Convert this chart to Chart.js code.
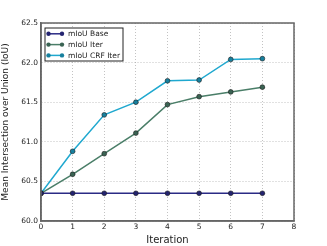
<!DOCTYPE html>
<html>
<head>
<meta charset="utf-8">
<script src="https://cdn.jsdelivr.net/npm/chart.js@4"></script>
<style>
  html, body { margin: 0; padding: 0; background: #fff; }
  #wrap { width: 327px; height: 246px; }
</style>
</head>
<body>
<div id="wrap"><canvas id="chart" width="327" height="246"></canvas></div>
<script>
const iterations = [0, 1, 2, 3, 4, 5, 6, 7];
const seriesNames = ['mIoU Base', 'mIoU Iter', 'mIoU CRF Iter'];
const baseValues = [60.35, 60.35, 60.35, 60.35, 60.35, 60.35, 60.35, 60.35];
const iterValues = [60.35, 60.59, 60.85, 61.11, 61.47, 61.57, 61.63, 61.69];
const crfValues = [60.35, 60.88, 61.34, 61.50, 61.77, 61.78, 62.04, 62.05];
const lineColors = ['#2b2b85', '#4a7e68', '#1fa8cf'];
const pointColors = ['#242470', '#3a6353', '#17809e'];

const FONT = 'DejaVu Sans';

function makeSet(i, values) {
  return {
    label: seriesNames[i],
    data: iterations.map((x, k) => ({ x: x, y: values[k] })),
    borderColor: lineColors[i],
    backgroundColor: pointColors[i],
    pointBackgroundColor: pointColors[i],
    pointBorderColor: '#1a1a1a',
    pointBorderWidth: 0.6,
    pointRadius: 2.4,
    borderWidth: 1.5,
    tension: 0
  };
}

// legend drawn inside the plot, top-left, like matplotlib
const innerLegend = {
  id: 'innerLegend',
  afterDatasetsDraw(chart) {
    const ctx = chart.ctx;
    const a = chart.chartArea;
    const x0 = a.left + 3.5, y0 = a.top + 4.5;
    ctx.save();
    ctx.fillStyle = '#fff';
    ctx.strokeStyle = '#222';
    ctx.lineWidth = 1;
    ctx.fillRect(x0, y0, 78, 33);
    ctx.strokeRect(x0 + 0.5, y0 + 0.5, 78, 33);
    ctx.font = '7.5px ' + FONT;
    ctx.textBaseline = 'middle';
    chart.data.datasets.forEach((ds, i) => {
      const y = y0 + 6.3 + i * 10.8;
      ctx.strokeStyle = ds.borderColor;
      ctx.lineWidth = 1.5;
      ctx.beginPath();
      ctx.moveTo(x0 + 3.5, y);
      ctx.lineTo(x0 + 18, y);
      ctx.stroke();
      [x0 + 4, x0 + 17.5].forEach(px => {
        ctx.beginPath();
        ctx.arc(px, y, 2.2, 0, Math.PI * 2);
        ctx.fillStyle = ds.pointBackgroundColor;
        ctx.fill();
      });
      ctx.fillStyle = '#222';
      ctx.fillText(ds.label, x0 + 23.5, y + 0.5);
    });
    ctx.restore();
  }
};

new Chart(document.getElementById('chart'), {
  type: 'line',
  data: {
    datasets: [
      makeSet(0, baseValues),
      makeSet(1, iterValues),
      makeSet(2, crfValues)
    ]
  },
  options: {
    responsive: false,
    animation: false,
    layout: { padding: { top: 23, right: 33, left: 0, bottom: 0 } },
    plugins: {
      legend: { display: false },
      tooltip: { enabled: false }
    },
    scales: {
      x: {
        type: 'linear',
        min: 0,
        max: 8,
        ticks: {
          stepSize: 1,
          color: '#222',
          padding: 2,
          font: { family: FONT, size: 7.5 }
        },
        grid: { color: '#9a9a9a', lineWidth: 0.6, drawTicks: false },
        border: { color: '#666', width: 1.5, dash: [1, 2] },
        title: {
          display: true,
          text: 'Iteration',
          color: '#222',
          padding: { top: 0, bottom: 0 },
          font: { family: FONT, size: 10 }
        },
        afterFit: s => { s.height = 25; }
      },
      y: {
        min: 60,
        max: 62.5,
        ticks: {
          stepSize: 0.5,
          color: '#222',
          padding: 3,
          font: { family: FONT, size: 7.5 },
          callback: v => v.toFixed(1)
        },
        grid: { color: '#9a9a9a', lineWidth: 0.6, drawTicks: false },
        border: { color: '#666', width: 1.5, dash: [1, 2] },
        title: {
          display: true,
          text: 'Mean Intersection over Union (IoU)',
          color: '#222',
          padding: { top: 0, bottom: 1 },
          font: { family: FONT, size: 9 }
        },
        afterFit: s => { s.width = 41; }
      }
    }
  },
  plugins: [innerLegend, {
    id: 'frame',
    afterDraw(chart) {
      const ctx = chart.ctx;
      const a = chart.chartArea;
      ctx.save();
      ctx.strokeStyle = '#666';
      ctx.lineWidth = 1.5;
      ctx.strokeRect(a.left, a.top, a.right - a.left, a.bottom - a.top);
      ctx.restore();
    }
  }]
});
</script>
</body>
</html>
